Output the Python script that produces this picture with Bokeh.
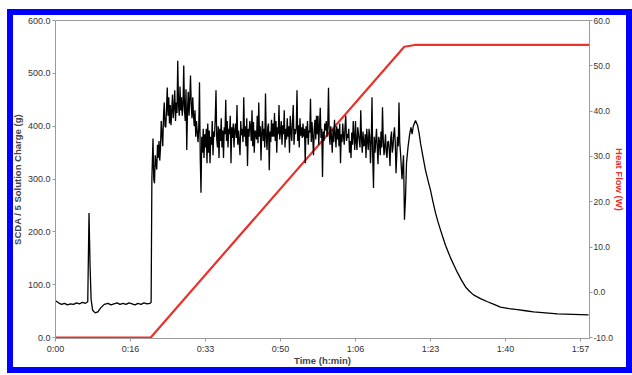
import numpy as np
import pandas as pd
from bokeh.plotting import figure
from bokeh.models import LinearAxis, Range1d, FixedTicker, PrintfTickFormatter, ColumnDataSource
from bokeh.embed import file_html
from bokeh.resources import INLINE

# ---------------- data ----------------
x_ticks = [0, 1000, 2000, 3000, 4000, 5000, 6000, 7000]          # seconds
x_tick_labels = ["0:00", "0:16", "0:33", "0:50", "1:06", "1:23", "1:40", "1:57"]
left_ticks = [0, 100, 200, 300, 400, 500, 600]
right_ticks = [-10, 0, 10, 20, 30, 40, 50, 60]

# SCDA / 5 solution charge (g) - start segment
charge_t_start = [0, 40, 80, 120, 160, 200, 240, 280, 320, 360, 400, 430, 447, 460, 475,
                  495, 530, 565, 600, 650, 700, 740, 780, 820, 860, 900, 940, 980, 1020,
                  1060, 1100, 1140, 1180, 1220, 1260, 1275, 1285]
charge_v_start = [70, 66, 63, 65, 62, 64, 63, 66, 64, 67, 65, 68, 236, 140, 72,
                  52, 47, 49, 56, 63, 65, 62, 64, 66, 63, 65, 63, 66, 64,
                  62, 65, 63, 66, 64, 65, 67, 300]

# noisy segment sampled every 10 s from 1300 s (one row per 100 s)
noise_t0 = 1300
noise_dt = 10
charge_v_noise = [
    377, 300, 292, 345, 330, 318, 365, 340, 372, 335,
    360, 410, 385, 362, 420, 445, 400, 398, 430, 473,
    420, 455, 405, 440, 402, 430, 460, 415, 435, 468,
    410, 445, 425, 524, 440, 420, 475, 430, 455, 420,
    440, 515, 430, 410, 470, 355, 430, 465, 420, 450,
    496, 440, 415, 455, 420, 400, 430, 380, 410, 390,
    370, 395, 483, 340, 274, 380, 350, 395, 340, 385,
    360, 395, 330, 405, 350, 392, 330, 380, 365, 410,
    345, 390, 380, 415, 468, 375, 360, 400, 340, 395,
    372, 415, 360, 392, 340, 398, 385, 450, 372, 410,
    360, 395, 385, 420, 330, 398, 378, 405, 360, 392,
    405, 378, 440, 365, 392, 370, 345, 410, 383, 395,
    370, 455, 380, 400, 362, 415, 325, 395, 380, 410,
    400, 372, 430, 362, 408, 350, 392, 385, 375, 420,
    368, 445, 380, 400, 335, 388, 410, 372, 395, 360,
    462, 380, 355, 398, 405, 317, 390, 370, 412, 380,
    405, 380, 425, 372, 410, 350, 398, 385, 440, 375,
    390, 410, 365, 402, 385, 430, 360, 395, 375, 415,
    380, 400, 350, 420, 390, 372, 410, 440, 365, 395,
    385, 395, 468, 372, 402, 360, 415, 382, 398, 378,
    405, 380, 395, 330, 400, 378, 410, 365, 392, 388,
    452, 370, 408, 380, 345, 395, 412, 375, 420, 385,
    420, 365, 400, 435, 378, 395, 304, 390, 372, 405,
    392, 410, 380, 400, 473, 385, 365, 400, 378, 350,
    395, 370, 412, 385, 360, 400, 375, 395, 362, 405,
    330, 385, 370, 405, 380, 365, 398, 420, 372, 385,
    378, 395, 350, 372, 340, 388, 365, 410, 380, 355,
    410, 370, 355, 398, 385, 372, 360, 430, 378, 350,
    390, 362, 365, 385, 340, 395, 372, 355, 395, 380,
    330, 370, 455, 340, 283, 380, 350, 372, 395, 360,
    328, 380, 370, 345, 390, 360, 436, 375, 345, 362,
    385, 350, 340, 370, 372, 355, 325, 378, 390, 350,
    360, 385, 398, 370, 311, 345, 380, 362, 445, 370,
]

# dip, final peak and decay
charge_t_end = [4600, 4620, 4640, 4653, 4667, 4680, 4700, 4720, 4740, 4755, 4770, 4800,
                4827, 4850, 4867, 4900, 4933, 4967, 5000, 5033, 5067, 5100, 5133, 5167,
                5200, 5233, 5267, 5313, 5360, 5413, 5467, 5520, 5573, 5667, 5760, 5847,
                5933, 6047, 6160, 6267, 6373, 6533, 6693, 6900, 7107]
charge_v_end = [350, 300, 345, 223, 265, 330, 360, 383, 398, 385, 400, 411,
                402, 385, 368, 342, 317, 297, 279, 257, 236, 219, 204, 189,
                175, 163, 151, 137, 123, 109, 96, 88, 81, 74, 68, 63,
                58, 55, 53, 51, 49, 47, 45, 44, 43]

# Heat flow (W)
heat_t = [0, 1267, 4650, 4790, 7120]
heat_v = [-10, -10, 54.2, 54.6, 54.6]

# ---------------- assemble ----------------
noise_t = list(noise_t0 + noise_dt * np.arange(len(charge_v_noise)))
charge = pd.DataFrame({
    "t": charge_t_start + noise_t + charge_t_end,
    "v": charge_v_start + charge_v_noise + charge_v_end,
})
heat = pd.DataFrame({"t": heat_t, "v": heat_v})

FONT = "Liberation Sans"
GRAY = "#9a9a9a"
RED = "#e8322c"

p = figure(width=625, height=364, output_backend="svg", toolbar_location=None,
           x_range=Range1d(0, 7120), y_range=Range1d(-1.5, 600),
           min_border_left=48, min_border_right=43, min_border_top=11, min_border_bottom=35)
p.extra_y_ranges = {"hf": Range1d(-10.175, 60)}
p.styles = {"margin-left": "7px", "margin-top": "9px"}
p.stylesheets = [
    ":host { position: relative; }",
    ":host::after { content: ''; position: absolute; left: 0; top: 0; right: 0; bottom: 0; "
    "border: 6px solid #0000ff; box-sizing: border-box; pointer-events: none; z-index: 100; }",
]
p.xgrid.visible = False
p.ygrid.visible = False
p.outline_line_color = GRAY
p.outline_line_width = 1
p.background_fill_color = "white"
p.border_fill_color = "white"

p.line("t", "v", source=ColumnDataSource(heat), color=RED, line_width=2.2, y_range_name="hf")
p.line("t", "v", source=ColumnDataSource(charge), color="black", line_width=1.3)

right = LinearAxis(y_range_name="hf")
p.add_layout(right, "right")


def style(ax, size="9px"):
    ax.axis_line_color = GRAY
    ax.major_tick_line_color = GRAY
    ax.minor_tick_line_color = None
    ax.major_tick_out = 3
    ax.major_tick_in = 0
    ax.major_label_text_font = FONT
    ax.major_label_text_font_size = size
    ax.major_label_text_color = "#333333"
    ax.axis_label_text_font = FONT
    ax.axis_label_text_font_size = "9.5px"
    ax.axis_label_text_font_style = "bold"


xa = p.xaxis[0]
style(xa)
xa.ticker = FixedTicker(ticks=x_ticks)
xa.major_label_overrides = {t: l for t, l in zip(x_ticks, x_tick_labels)}
xa.axis_label = "Time (h:min)"
xa.axis_label_standoff = -2
xa.major_label_standoff = 2

ya = p.yaxis[0]
style(ya)
ya.ticker = FixedTicker(ticks=left_ticks)
ya.formatter = PrintfTickFormatter(format="%.1f")
ya.axis_label = "SCDA / 5 Solution Charge (g)"
ya.axis_label_standoff = 2
ya.major_label_standoff = 2

style(right, "8.5px")
right.ticker = FixedTicker(ticks=right_ticks)
right.formatter = PrintfTickFormatter(format="%.1f")
right.axis_label = "Heat Flow (W)"
right.axis_label_text_color = RED
right.axis_label_standoff = -2
right.major_label_standoff = 1

open("out.html", "w").write(file_html(p, INLINE))
